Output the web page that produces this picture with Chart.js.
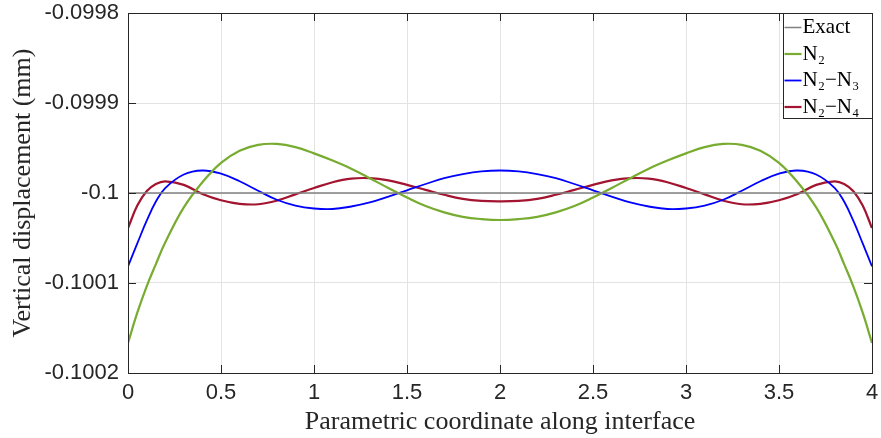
<!DOCTYPE html>
<html>
<head>
<meta charset="UTF-8">
<title>Vertical displacement</title>
<style>
  body{margin:0;background:#fff;}
  #wrap{width:881px;height:438px;}
</style>
</head>
<body>
<div id="wrap"><canvas id="chart" width="881" height="438"></canvas></div>
<script src="https://cdn.jsdelivr.net/npm/chart.js"></script>
<script>
// parametric coordinate samples
const xs = [0, 0.05, 0.1, 0.15, 0.2, 0.3, 0.4, 0.5, 0.6, 0.7, 0.8, 0.9, 1.0, 1.1, 1.2, 1.3, 1.4, 1.5, 1.6, 1.7, 1.8, 1.9,
  2.0, 2.1, 2.2, 2.3, 2.4, 2.5, 2.6, 2.7, 2.8, 2.9, 3.0, 3.1, 3.2, 3.3, 3.4, 3.5, 3.6, 3.7, 3.8, 3.85, 3.9, 3.95, 4]

const exactX = [0, 4]
const exactY = [-0.1, -0.1]

const n2 = [-0.1001667, -0.1001330, -0.1001040, -0.1000790, -0.1000550, -0.1000160, -0.0999880, -0.0999665,
  -0.0999530, -0.0999465, -0.0999455, -0.0999490, -0.0999560, -0.0999640, -0.0999730, -0.0999835, -0.0999945,
  -0.1000050, -0.1000145, -0.1000215, -0.1000265, -0.1000290, -0.1000300, -0.1000290, -0.1000265, -0.1000215,
  -0.1000145, -0.1000050, -0.0999945, -0.0999835, -0.0999730, -0.0999640, -0.0999560, -0.0999490, -0.0999455,
  -0.0999465, -0.0999530, -0.0999665, -0.0999880, -0.1000160, -0.1000550, -0.1000790, -0.1001040, -0.1001330, -0.1001667]

const n2n3 = [-0.1000815, -0.1000560, -0.1000310, -0.1000095, -0.0999945, -0.0999795, -0.0999750, -0.0999785,
  -0.0999870, -0.0999975, -0.1000075, -0.1000140, -0.1000172, -0.1000178, -0.1000150, -0.1000105, -0.1000040,
  -0.0999970, -0.0999900, -0.0999835, -0.0999790, -0.0999760, -0.0999750, -0.0999760, -0.0999790, -0.0999835,
  -0.0999900, -0.0999970, -0.1000040, -0.1000105, -0.1000150, -0.1000178, -0.1000172, -0.1000140, -0.1000075,
  -0.0999975, -0.0999870, -0.0999785, -0.0999750, -0.0999795, -0.0999945, -0.1000095, -0.1000310, -0.1000560, -0.1000815]

const n2n4 = [-0.1000390, -0.1000140, -0.0999980, -0.0999900, -0.0999870, -0.0999910, -0.1000010, -0.1000080,
  -0.1000120, -0.1000125, -0.1000085, -0.1000015, -0.0999945, -0.0999880, -0.0999840, -0.0999835, -0.0999860,
  -0.0999910, -0.0999965, -0.1000020, -0.1000065, -0.1000088, -0.1000093, -0.1000088, -0.1000065, -0.1000020,
  -0.0999965, -0.0999910, -0.0999860, -0.0999835, -0.0999840, -0.0999880, -0.0999945, -0.1000015, -0.1000085,
  -0.1000125, -0.1000120, -0.1000080, -0.1000010, -0.0999910, -0.0999870, -0.0999900, -0.0999980, -0.1000140, -0.1000390]

const yTicks = [-0.1002, -0.1001, -0.1, -0.0999, -0.0998]
const xTicks = [0, 0.5, 1, 1.5, 2, 2.5, 3, 3.5, 4]

const toPts = (xa, ya) => xa.map((x, i) => ({x: x, y: ya[i]}))

// box, inward ticks and legend like the matlab figure
const boxPlugin = {
  id: 'box',
  afterDatasetsDraw(chart){
    const {ctx, chartArea: a, scales} = chart
    ctx.save()
    ctx.strokeStyle = '#262626'
    ctx.lineWidth = 1
    ctx.beginPath()
    xTicks.forEach(v => {
      const px = Math.round(scales.x.getPixelForValue(v)) + 0.5
      ctx.moveTo(px, a.bottom); ctx.lineTo(px, a.bottom - 8)
      ctx.moveTo(px, a.top); ctx.lineTo(px, a.top + 8)
    })
    yTicks.forEach(v => {
      const py = Math.round(scales.y.getPixelForValue(v)) + 0.5
      ctx.moveTo(a.left, py); ctx.lineTo(a.left + 8, py)
      ctx.moveTo(a.right, py); ctx.lineTo(a.right - 8, py)
    })
    ctx.stroke()
    ctx.strokeRect(Math.round(a.left) + 0.5, Math.round(a.top) + 0.5, Math.round(a.right - a.left), Math.round(a.bottom - a.top))

    // legend
    const lw = 89, lh = 105
    const lx = Math.round(a.right - lw) + 0.5, ly = Math.round(a.top) + 0.5
    ctx.fillStyle = '#fff'
    ctx.fillRect(lx, ly, lw, lh)
    ctx.strokeStyle = '#262626'
    ctx.strokeRect(lx, ly, lw, lh)
    ctx.font = '21px "Liberation Serif"'
    ctx.textBaseline = 'middle'
    chart.data.datasets.forEach((ds, i) => {
      const cy = ly + 14 + i * 26.5
      ctx.strokeStyle = ds.borderColor
      ctx.lineWidth = ds.borderWidth
      ctx.beginPath(); ctx.moveTo(lx + 1, cy); ctx.lineTo(lx + 18, cy); ctx.stroke()
      ctx.fillStyle = '#000'
      ctx.fillText(ds.label, lx + 19, cy)
    })
    ctx.restore()
  }
}

new Chart(document.getElementById('chart'), {
  type: 'scatter',
  data: {
    datasets: [
      {label: 'Exact', data: toPts(exactX, exactY), borderColor: '#808080', borderWidth: 1.5},
      {label: 'N\u2082', data: toPts(xs, n2), borderColor: '#77AC30', borderWidth: 2.2},
      {label: 'N\u2082\u2212N\u2083', data: toPts(xs, n2n3), borderColor: '#0000FF', borderWidth: 1.8},
      {label: 'N\u2082\u2212N\u2084', data: toPts(xs, n2n4), borderColor: '#A2142F', borderWidth: 2.2}
    ].map(d => Object.assign(d, {showLine: true, pointRadius: 0, tension: 0.4, fill: false}))
  },
  options: {
    responsive: false,
    animation: false,
    layout: {padding: {top: 13, right: 9, left: 0, bottom: 0}},
    plugins: {legend: {display: false}, tooltip: {enabled: false}},
    scales: {
      x: {
        type: 'linear', min: 0, max: 4,
        afterBuildTicks: s => { s.ticks = xTicks.map(v => ({value: v})) },
        afterFit: s => { s.height = 65; s.paddingLeft = 0; s.paddingRight = 0 },
        grid: {color: '#e3e3e3', drawTicks: false},
        border: {display: false},
        ticks: {padding: 7, color: '#262626', font: {family: '"Liberation Sans"', size: 22}, callback: v => String(v)},
        title: {display: true, text: 'Parametric coordinate along interface', color: '#262626',
          font: {family: '"Liberation Serif"', size: 26}, padding: {top: 0, bottom: 0}}
      },
      y: {
        type: 'linear', min: -0.1002, max: -0.0998,
        afterBuildTicks: s => { s.ticks = yTicks.map(v => ({value: v})) },
        afterFit: s => { s.width = 128; s.paddingTop = 0; s.paddingBottom = 0 },
        grid: {color: '#e3e3e3', drawTicks: false},
        border: {display: false},
        ticks: {padding: 9, color: '#262626', font: {family: '"Liberation Sans"', size: 22}, callback: v => String(parseFloat(v.toFixed(4)))},
        title: {display: true, text: 'Vertical displacement (mm)', color: '#262626',
          font: {family: '"Liberation Serif"', size: 26}, padding: {top: 8, bottom: 0}}
      }
    }
  },
  plugins: [boxPlugin]
})
</script>
</body>
</html>
